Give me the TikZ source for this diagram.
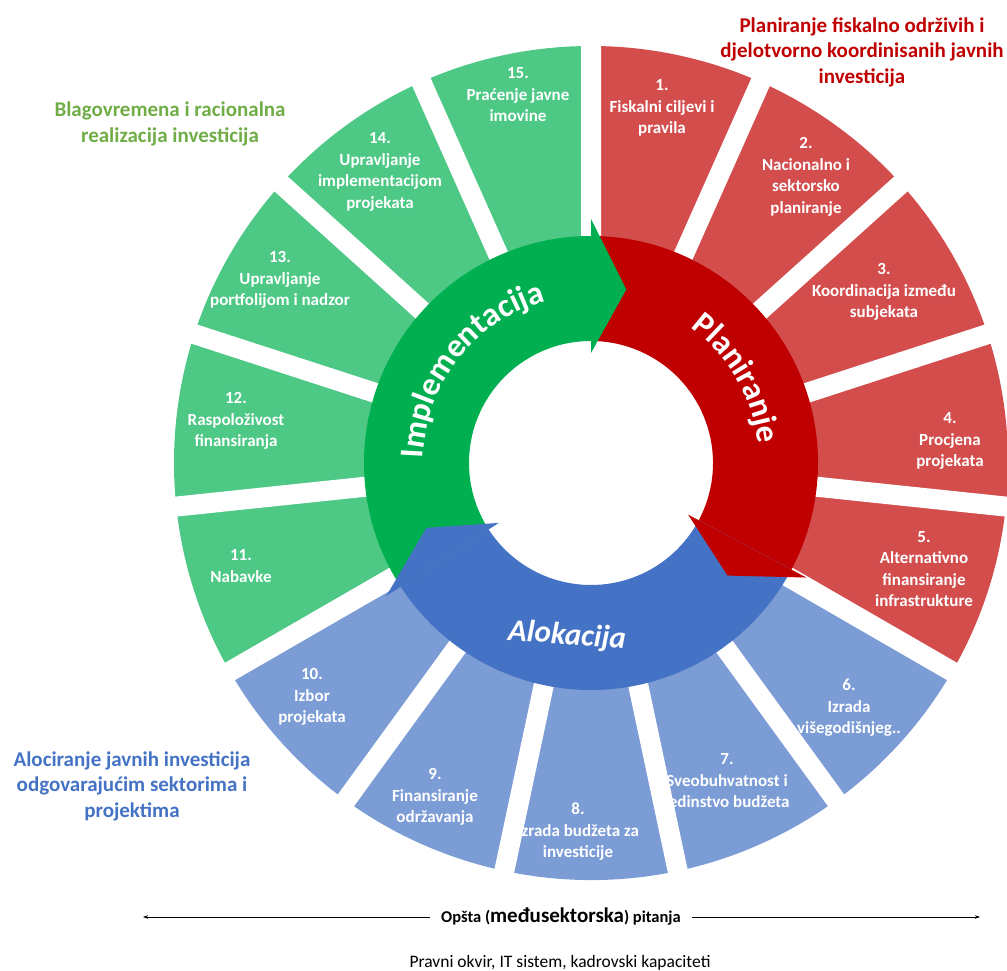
\documentclass[tikz,border=0pt]{standalone}
\usepackage{fontspec}
\setmainfont{Carlito}
\usetikzlibrary{arrows.meta,decorations.text}
\definecolor{segred}{HTML}{D34D4D}
\definecolor{seggreen}{HTML}{4DC885}
\definecolor{segblue}{HTML}{7C9CD6}
\definecolor{ringred}{HTML}{C00000}
\definecolor{ringgreen}{HTML}{00B050}
\definecolor{ringblue}{HTML}{4472C4}
\definecolor{titlegreen}{HTML}{70AD47}
\newcommand\ringfont{\color{white}\bfseries\fontsize{33}{33}\selectfont}
\tikzstyle{seg-label}=[text=white,align=center,font=\bfseries\fontsize{17}{21.5}\selectfont]
\tikzstyle{title-text}=[align=center,font=\bfseries\fontsize{21}{25.5}\selectfont]
\tikzstyle{gap-line}=[draw=white,line width=20pt]
\tikzstyle{black-line}=[draw=black,line width=0.8pt]

\begin{document}
\begin{tikzpicture}[x=1pt,y=1pt]
	\useasboundingbox (0,0) rectangle (1007,970);
	\begin{scope}[shift={(591,507)}]
	% outer segments
	\fill[segred] (90:200) arc[start angle=90,end angle=-30,radius=200] -- (-30:417) arc[start angle=-30,end angle=90,radius=417] -- cycle;
	\fill[segblue] (-30:200) arc[start angle=-30,end angle=-150,radius=200] -- (-150:417) arc[start angle=-150,end angle=-30,radius=417] -- cycle;
	\fill[seggreen] (-150:200) arc[start angle=-150,end angle=-270,radius=200] -- (90:417) arc[start angle=-270,end angle=-150,radius=417] -- cycle;
	\path[gap-line] (90:195) -- (90:425) (66:195) -- (66:425) (42:195) -- (42:425)
		(18:195) -- (18:425) (-6:195) -- (-6:425) (-30:195) -- (-30:425)
		(-54:195) -- (-54:425) (-78:195) -- (-78:425) (-102:195) -- (-102:425)
		(-126:195) -- (-126:425) (-150:195) -- (-150:425) (-174:195) -- (-174:425)
		(-198:195) -- (-198:425) (-222:195) -- (-222:425) (-246:195) -- (-246:425);
	
	% ring of arrows
	\fill[ringgreen] (213:227) arc[start angle=213,end angle=90,radius=227] -- (90:122) arc[start angle=90,end angle=213,radius=122] -- cycle;
	\fill[ringred] (90:227) arc[start angle=90,end angle=-28,radius=227] -- (-28:122) arc[start angle=-28,end angle=90,radius=122] -- cycle;
	\fill[ringblue] (-28:227) arc[start angle=-28,end angle=-147,radius=227] -- (-147:122) arc[start angle=-147,end angle=-28,radius=122] -- cycle;
	\fill[ringgreen] (90:244) -- (78.5:177) -- (90:110) -- cycle;
	\fill[ringred] (-28:244) -- (-39.5:177) -- (-28:110) -- cycle;
	\fill[ringblue] (-147:244) -- (-158.5:177) -- (-147:110) -- cycle;
	
	\path[decorate,decoration={text along path,text align=center,text={|\ringfont|Implementacija}}]
		(213:168) arc[start angle=213,end angle=71,radius=168];
	\path[decorate,decoration={text along path,text align=center,text={|\ringfont|Planiranje}}]
		(100:168) arc[start angle=100,end angle=-40,radius=168];
	\end{scope}
	\node (alokacija) [rotate=-4,text=white,font=\bfseries\itshape\fontsize{31}{31}\selectfont] at (567,334) {Alokacija};
	
	% segment labels
	\node (l1)[seg-label] at (662,862) {1.\\Fiskalni ciljevi i\\pravila};
	\node (l2)[seg-label] at (806,793) {2.\\Nacionalno i\\sektorsko\\planiranje};
	\node (l3)[seg-label] at (884,678) {3.\\Koordinacija između\\subjekata};
	\node (l4)[seg-label] at (950,529) {4.\\Procjena\\projekata};
	\node (l5)[seg-label] at (924,401) {5.\\Alternativno\\finansiranje\\infrastrukture};
	\node (l6)[seg-label] at (849,262) {6.\\Izrada\\višegodišnjeg..};
	\node (l7)[seg-label] at (727,188) {7.\\Sveobuhvatnost i\\jedinstvo budžeta};
	\node (l8)[seg-label] at (578,138) {8.\\Izrada budžeta za\\investicije};
	\node (l9)[seg-label] at (435,173) {9.\\Finansiranje\\održavanja};
	\node (l10)[seg-label] at (312,273) {10.\\Izbor\\projekata};
	\node (l11)[seg-label] at (241,404) {11.\\Nabavke};
	\node (l12)[seg-label] at (236,549) {12.\\Raspoloživost\\finansiranja};
	\node (l13)[seg-label] at (280,690) {13.\\Upravljanje\\portfolijom i nadzor};
	\node (l14)[seg-label] at (380,798) {14.\\Upravljanje\\implementacijom\\projekata};
	\node (l15)[seg-label] at (518,875) {15.\\Praćenje javne\\imovine};
	
	% titles
	\node (t-plan)[title-text,text=ringred] at (862,918) {Planiranje fiskalno održivih i\\djelotvorno koordinisanih javnih\\investicija};
	\node (t-impl)[title-text,text=titlegreen] at (170,846) {Blagovremena i racionalna\\realizacija investicija};
	\node (t-alok)[title-text,text=ringblue] at (132,184) {Alociranje javnih investicija\\odgovarajućim sektorima i\\projektima};
	
	% bottom
	\node (opsta)[inner xsep=11pt,font=\bfseries\fontsize{16.5}{16.5}\selectfont] at (561,53) {Opšta ({\fontsize{21}{21}\selectfont međusektorska}) pitanja};
	\coordinate (left-end) at (143,53);
	\coordinate (right-end) at (980,53);
	\begin{scope}[>={Stealth[black,length=5pt,width=3.5pt]}]
	\path [->,black-line] (opsta) -- (left-end);
	\path [->,black-line] (opsta) -- (right-end);
	\end{scope}
	\node (pravni)[anchor=base,font=\fontsize{17.5}{17.5}\selectfont] at (560,3) {Pravni okvir, IT sistem, kadrovski kapaciteti};
\end{tikzpicture}
\end{document}
